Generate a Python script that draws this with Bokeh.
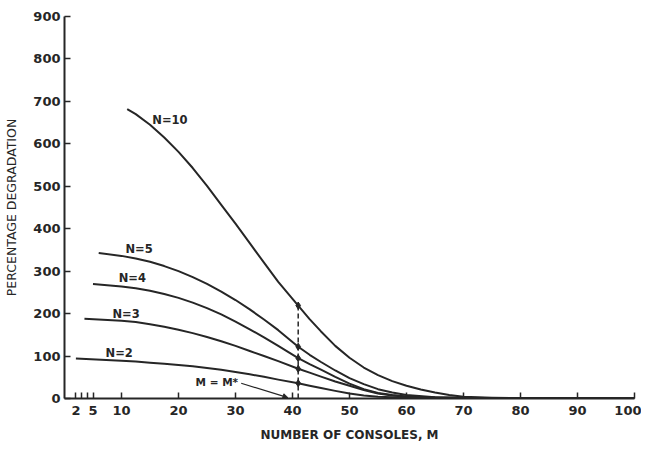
from bokeh.plotting import figure
from bokeh.models import Range1d, FixedTicker, Arrow, NormalHead
from bokeh.embed import file_html
from bokeh.resources import INLINE
from bokeh.core.properties import value

# ---- data ----
m_n10 = [11, 12.5, 15, 17.5, 20, 22.5, 25, 27.5, 30, 32.5, 35, 37.5, 41, 43, 45,
         47.5, 50, 52.5, 55, 57.5, 60, 62.5, 65, 67.5, 70, 75, 80, 90, 100]
deg_n10 = [682, 670, 645, 615, 581, 543, 501, 456, 412, 366, 320, 275, 219, 187, 158,
           124, 96, 73, 55, 41, 30, 21, 14, 8, 4, 2, 1, 0.5, 0]

m_n5 = [6, 10, 12.5, 15, 17.5, 20, 22.5, 25, 27.5, 30, 32.5, 35, 37.5, 41, 43, 45,
        47.5, 50, 52.5, 55, 57.5, 60, 65, 70, 80, 100]
deg_n5 = [343, 336, 330, 322, 312, 300, 286, 270, 252, 232, 210, 186, 161, 122, 103, 86,
          66, 48, 34, 22, 14, 8, 3, 1.5, 0.5, 0]

m_n4 = [5, 10, 12.5, 15, 17.5, 20, 22.5, 25, 27.5, 30, 32.5, 35, 37.5, 41, 43, 45,
        47.5, 50, 52.5, 55, 57.5, 60, 65, 70, 80, 100]
deg_n4 = [270, 264, 260, 254, 246, 237, 226, 213, 198, 181, 163, 144, 124, 95, 81, 68,
          51, 35, 22, 13, 8, 5, 2.5, 1, 0.5, 0]

m_n3 = [3.5, 10, 12.5, 15, 17.5, 20, 22.5, 25, 27.5, 30, 32.5, 35, 37.5, 41, 43, 45,
        47.5, 50, 52.5, 55, 57.5, 60, 65, 70, 100]
deg_n3 = [188, 183, 180, 175, 169, 162, 154, 145, 135, 124, 112, 100, 88, 70, 61, 51.5,
          40, 30, 20, 12, 7, 4, 2, 1, 0]

m_n2 = [2, 10, 12.5, 15, 17.5, 20, 22.5, 25, 27.5, 30, 32.5, 35, 37.5, 41, 43, 45,
        47.5, 50, 52.5, 55, 60, 70, 100]
deg_n2 = [94, 89, 87, 84.5, 82, 79, 76, 72, 67.5, 62.5, 57, 51, 44.5, 36, 30, 24.5,
          18, 12, 7, 4, 1.5, 0.5, 0]

series_labels = ["N=10", "N=5", "N=4", "N=3", "N=2"]
m_star = 41

x_ticks = [2, 3, 4, 5, 10, 20, 30, 40, 50, 60, 70, 80, 90, 100]
x_hidden_labels = [3, 4]
y_ticks = [0, 100, 200, 300, 400, 500, 600, 700, 800, 900]

x_title = "NUMBER OF CONSOLES, M"
y_title = "PERCENTAGE DEGRADATION"
star_label = "M = M*"

# ---- styling / annotation placement ----
INK = "#262626"
FONT = "DejaVu Sans"
label_pos = [(15.4, 655), (10.7, 353), (9.5, 283), (8.4, 200), (7.2, 108)]
star_label_pos = (23.0, 38)
leader_from = (31.0, 36)
leader_to = (39.2, 2)

p = figure(width=641, height=445, output_backend="svg", toolbar_location=None,
           x_range=Range1d(0, 100), y_range=Range1d(0, 900),
           min_border_left=64, min_border_right=7, min_border_top=16,
           min_border_bottom=47)
p.outline_line_color = None
p.background_fill_color = "white"
p.border_fill_color = "white"
p.xgrid.visible = False
p.ygrid.visible = False

series = [(m_n10, deg_n10), (m_n5, deg_n5), (m_n4, deg_n4),
          (m_n3, deg_n3), (m_n2, deg_n2)]
for (mx, dy) in series:
    p.line(mx, dy, line_color=INK, line_width=2, line_join="round")

# dashed line at M* and the dots on each curve
star_vals = [dy[mx.index(m_star)] for (mx, dy) in series]
p.segment(x0=[m_star], y0=[0], x1=[m_star], y1=[max(star_vals)],
          line_color=INK, line_width=1.5, line_dash="5 3")
p.scatter([m_star] * len(star_vals), star_vals, marker="diamond", size=7,
          fill_color=INK, line_color=INK)

# curve labels
for lab, (lx, ly) in zip(series_labels, label_pos):
    p.text([lx], [ly], text=[lab], text_font=value(FONT), text_font_style="bold",
           text_font_size="11.5px", text_color=INK, text_align="left",
           text_baseline="middle")

p.text([star_label_pos[0]], [star_label_pos[1]], text=[star_label],
       text_font=value(FONT), text_font_style="bold", text_font_size="10.5px",
       text_color=INK, text_align="left", text_baseline="middle")
p.add_layout(Arrow(x_start=leader_from[0], y_start=leader_from[1],
                   x_end=leader_to[0], y_end=leader_to[1],
                   line_color=INK, line_width=1.2,
                   end=NormalHead(size=5, fill_color=INK, line_color=INK)))

# axes
for ax in (p.xaxis[0], p.yaxis[0]):
    ax.axis_line_color = INK
    ax.axis_line_width = 2
    ax.major_tick_line_color = INK
    ax.major_tick_line_width = 1.5
    ax.major_tick_in = 6
    ax.major_tick_out = 0
    ax.minor_tick_line_color = None
    ax.major_label_text_font = FONT
    ax.major_label_text_font_style = "bold"
    ax.major_label_text_font_size = "13px"
    ax.major_label_text_color = INK
    ax.axis_label_text_font = FONT
    ax.axis_label_text_color = INK

p.xaxis.ticker = FixedTicker(ticks=x_ticks)
p.xaxis.major_label_overrides = {t: "" for t in x_hidden_labels}
p.xaxis.major_label_standoff = 7
p.xaxis.axis_label = x_title
p.xaxis.axis_label_text_font_style = "bold"
p.xaxis.axis_label_text_font_size = "12px"
p.xaxis.axis_label_standoff = 10

p.yaxis.ticker = FixedTicker(ticks=y_ticks)
p.yaxis.major_label_standoff = 4
p.yaxis.axis_label = y_title
p.yaxis.axis_label_text_font_style = "normal"
p.yaxis.axis_label_text_font_size = "12.5px"
p.yaxis.axis_label_standoff = 11

open("out.html", "w").write(file_html(p, INLINE))
